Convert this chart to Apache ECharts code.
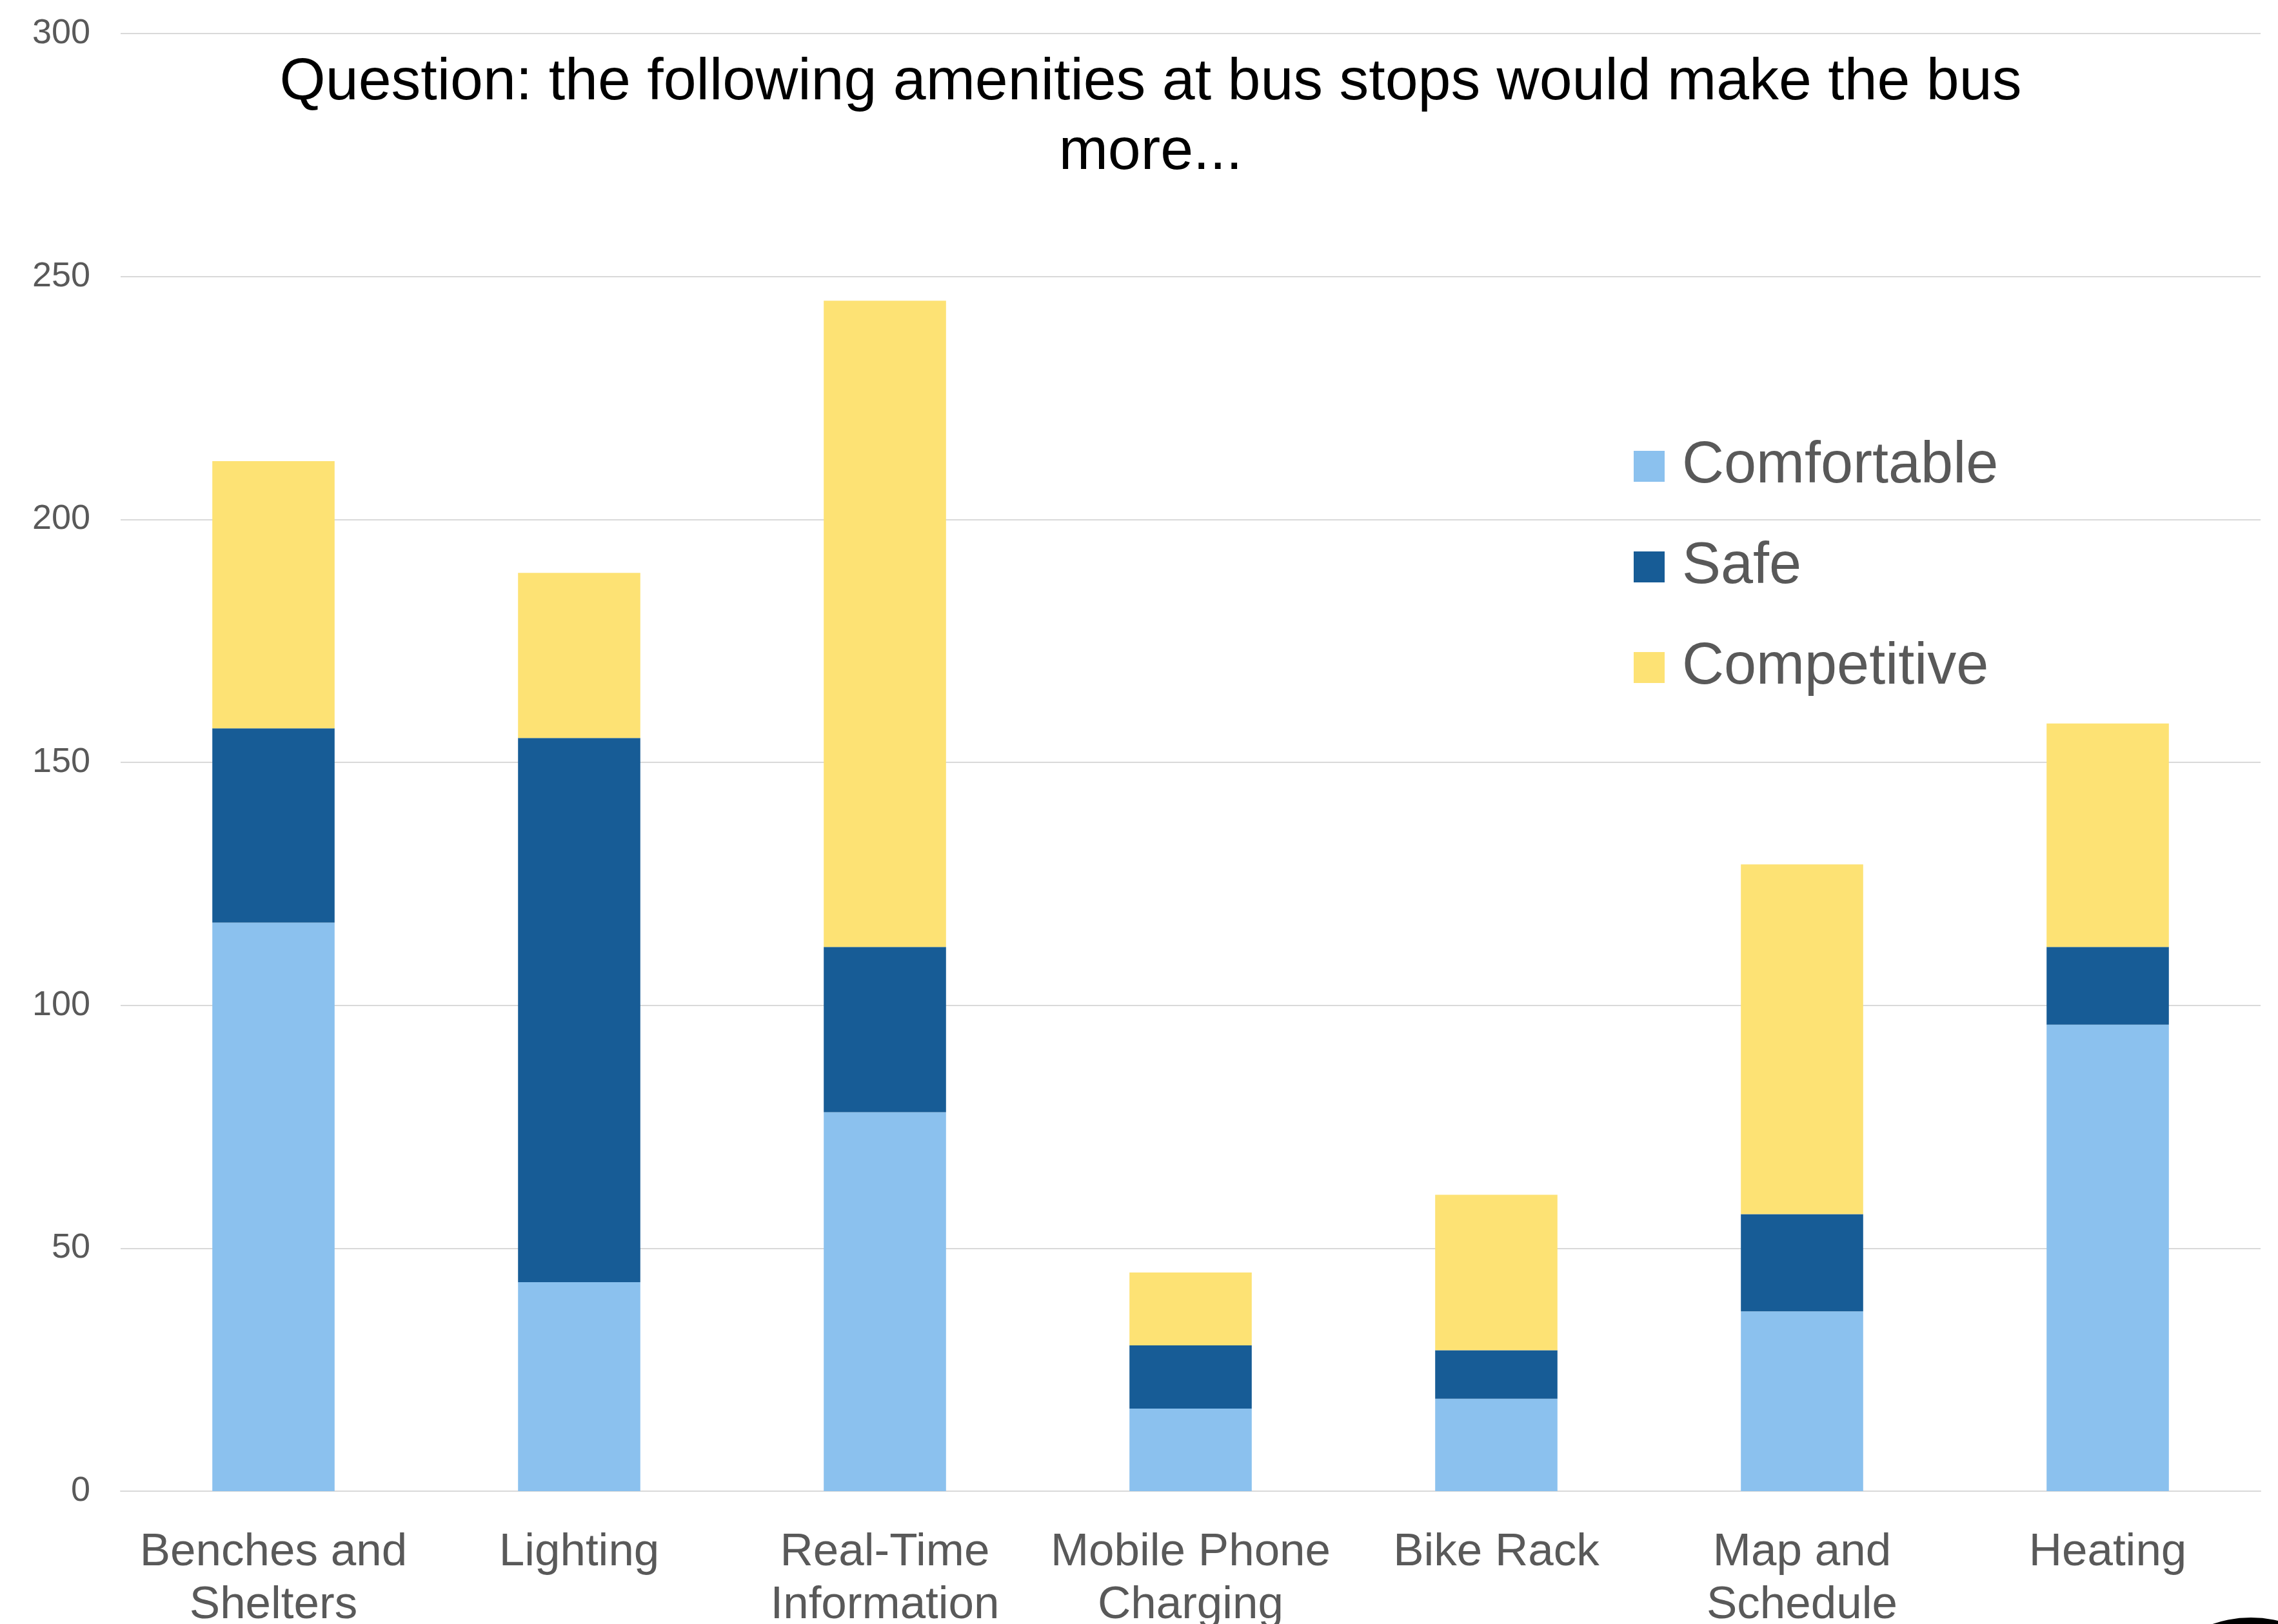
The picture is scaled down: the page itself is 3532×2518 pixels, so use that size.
<!DOCTYPE html>
<html>
<head>
<meta charset="utf-8">
<style>
html,body{margin:0;padding:0;background:#ffffff;}
#chart{width:3532px;height:2518px;}
</style>
<script src="https://cdn.jsdelivr.net/npm/echarts@6/dist/echarts.min.js"></script>
</head>
<body>
<div id="chart"></div>
<script>
var categories = ['Benches and\nShelters', 'Lighting', 'Real-Time\nInformation', 'Mobile Phone\nCharging', 'Bike Rack', 'Map and\nSchedule', 'Heating'];
var comfortable = [117, 43, 78, 17, 19, 37, 96];
var safe = [40, 112, 34, 13, 10, 20, 16];
var competitive = [55, 34, 133, 15, 32, 72, 46];
var seriesNames = ['Comfortable', 'Safe', 'Competitive'];
var seriesColors = ['#8BC1EE', '#175C96', '#FDE274'];
var yTicks = {min: 0, max: 300, interval: 50};
var titleText = 'Question: the following amenities at bus stops would make the bus\nmore...';

var FONT = '"Liberation Sans", Arial, sans-serif';
var chart = echarts.init(document.getElementById('chart'), null, {renderer: 'canvas'});
var valuesList = [comfortable, safe, competitive];
var series = seriesNames.map(function (name, i) {
  return {
    name: name,
    type: 'bar',
    stack: 'total',
    barWidth: '40%',
    itemStyle: {color: seriesColors[i]},
    emphasis: {disabled: true},
    data: valuesList[i]
  };
});

chart.setOption({
  backgroundColor: '#ffffff',
  animation: false,
  title: {
    text: titleText,
    left: 1779,
    top: 70,
    textAlign: 'center',
    textStyle: {
      fontFamily: FONT,
      fontSize: 91.5,
      fontWeight: 'normal',
      color: '#000000',
      lineHeight: 108
    }
  },
  legend: {
    orient: 'vertical',
    left: 2533,
    top: 678,
    padding: 0,
    itemWidth: 48,
    itemHeight: 48,
    itemGap: 66,
    icon: 'rect',
    data: seriesNames,
    textStyle: {
      fontFamily: FONT,
      fontSize: 90,
      color: '#595959',
      padding: [0, 0, 0, 22]
    }
  },
  grid: {
    left: 187,
    right: 27,
    top: 52,
    bottom: 206,
    containLabel: false,
    outerBoundsMode: 'none'
  },
  xAxis: {
    type: 'category',
    data: categories,
    axisTick: {show: false},
    axisLine: {show: true, lineStyle: {color: '#d9d9d9', width: 2}},
    axisLabel: {
      interval: 0,
      margin: 54,
      fontFamily: FONT,
      fontSize: 71,
      lineHeight: 82,
      color: '#595959'
    }
  },
  yAxis: {
    type: 'value',
    min: yTicks.min,
    max: yTicks.max,
    interval: yTicks.interval,
    axisLine: {show: false},
    axisTick: {show: false},
    splitLine: {lineStyle: {color: '#d9d9d9', width: 2}},
    axisLabel: {
      margin: 47,
      fontFamily: FONT,
      fontSize: 54,
      color: '#595959'
    }
  },
  graphic: [{
    type: 'circle',
    shape: {cx: 3490, cy: 2690, r: 182},
    style: {fill: '#000000'},
    silent: true
  }],
  series: series
});
</script>
</body>
</html>
